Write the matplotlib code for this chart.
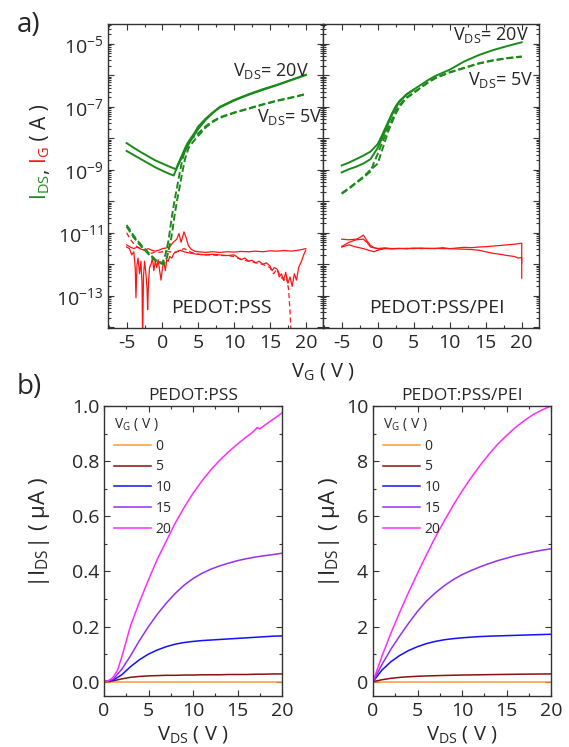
import matplotlib
matplotlib.use('Agg')
import matplotlib.pyplot as plt
import numpy as np
from matplotlib.ticker import LogLocator, FuncFormatter, MultipleLocator, NullFormatter, FormatStrFormatter

plt.rcParams['font.family'] = ['Open Sans', 'DejaVu Sans']
plt.rcParams['mathtext.default'] = 'regular'
plt.rcParams['axes.unicode_minus'] = False

TXT = '#262626'
GREEN = '#1a8a1a'
RED = '#ff1414'

# ---------------- (a) transfer curves, log10(I / A) ----------------
# PEDOT:PSS, VDS = 20 V (solid, two sweeps)
vg_pss_20a = [-5, -4, -3, -2, -1, 0, 1, 1.88, 2.3, 2.7, 3.04, 3.5, 4.0, 4.44, 5, 6, 7, 8, 10, 12, 14, 16, 18, 20]
lg_pss_20a = [-8.15, -8.3, -8.44, -8.57, -8.7, -8.8, -8.9, -8.98, -8.75, -8.55, -8.37, -8.15, -7.98, -7.84,
              -7.62, -7.38, -7.18, -7.0, -6.78, -6.6, -6.44, -6.3, -6.14, -5.98]
vg_pss_20b = [-5, -4, -3, -2, -1, 0, 1, 1.56, 2.0, 2.5, 3.0, 3.5, 4, 5, 6, 7, 8, 10, 12, 14, 16, 18, 20]
lg_pss_20b = [-8.40, -8.53, -8.66, -8.79, -8.92, -9.03, -9.13, -9.18, -8.95, -8.7, -8.47, -8.25, -8.05,
              -7.7, -7.42, -7.2, -7.02, -6.8, -6.62, -6.46, -6.31, -6.15, -5.99]
# PEDOT:PSS, VDS = 5 V (dashed, two sweeps)
vg_pss_5a = [-5, -4, -3, -2, -1, -0.5, 0, 0.4, 0.8, 1.0, 1.3, 1.7, 2.0, 2.4, 2.8, 3.3, 4, 5, 6, 7, 8, 10,
             12, 14, 16, 18, 20]
lg_pss_5a = [-10.75, -11.1, -11.38, -11.62, -11.85, -11.92, -11.95, -11.7, -11.3, -11.0, -10.5, -9.95, -9.6,
             -9.1, -8.65, -8.26, -8.02, -7.84, -7.62, -7.46, -7.33, -7.18, -7.05, -6.92, -6.8, -6.7, -6.59]
vg_pss_5b = [-5, -4, -3, -2, -1, -0.5, 0.2, 0.6, 1.1, 1.35, 1.65, 2.05, 2.35, 2.75, 3.15, 3.65, 4.3, 5, 6,
             7, 8, 10, 12, 14, 16, 18, 20]
lg_pss_5b = [-10.8, -11.15, -11.42, -11.66, -11.88, -11.95, -12.0, -11.8, -11.3, -11.0, -10.5, -9.95, -9.6,
             -9.1, -8.65, -8.3, -8.1, -7.92, -7.66, -7.48, -7.35, -7.19, -7.06, -6.93, -6.81, -6.71, -6.6]
# PEDOT:PSS gate currents
vg_pss_ga = [-5, -4.5, -4, -3.5, -3, -2.5, -2, -1.5, -1, -0.5, 0, 0.5, 1, 1.5, 2, 2.3, 2.6, 3.0, 3.3, 3.6,
             4, 4.5, 5, 6, 7, 8, 9, 10, 11, 12, 13, 14, 15, 16, 17, 18, 19, 20]
lg_pss_ga = [-11.38, -11.45, -11.5, -11.45, -11.52, -11.55, -11.5, -11.55, -11.58, -11.55, -11.5, -11.48,
             -11.45, -11.3, -11.2, -11.02, -11.3, -10.97, -11.15, -11.4, -11.52, -11.58, -11.6, -11.62, -11.6,
             -11.62, -11.6, -11.61, -11.59, -11.6, -11.58, -11.6, -11.57, -11.58, -11.56, -11.58, -11.55, -11.5]
vg_pss_gb = [-5, -4.6, -4.3, -4.0, -3.8, -3.7, -3.55, -3.4, -3.2, -3.0, -2.85, -2.77, -2.65, -2.5, -2.3,
             -2.15, -2.07, -1.95, -1.8, -1.6, -1.4, -1.2, -1.0, -0.8, -0.6, -0.4, -0.2, 0, 0.2, 0.4, 0.6,
             0.8, 1.0, 1.3, 1.6, 2.0, 2.5, 3, 4, 5, 6, 7, 8, 9, 10, 10.5, 11, 11.5, 12, 12.5, 13, 13.5, 14,
             14.5, 15, 15.3, 15.6, 16, 16.3, 16.6, 16.9, 17.2, 17.5, 17.8, 18.1, 18.4, 18.7, 19, 19.4,
             19.7, 20]
lg_pss_gb = [-11.45, -11.5, -11.7, -11.6, -12.1, -13.06, -12.0, -11.8, -12.3, -11.9, -12.6, -14.5, -12.4,
             -11.9, -12.3, -12.8, -13.44, -12.6, -12.1, -12.0, -11.8, -12.2, -11.9, -12.1, -11.85, -12.2,
             -12.5, -12.1, -11.9, -12.2, -11.85, -11.9, -11.75, -11.8, -11.65, -11.6, -11.55, -11.6, -11.65,
             -11.68, -11.7, -11.68, -11.7, -11.72, -11.7, -11.78, -11.85, -11.8, -11.9, -11.87, -11.95,
             -11.9, -12.0, -11.95, -12.05, -12.2, -12.1, -12.15, -12.4, -12.3, -12.5, -12.25, -12.6, -12.4,
             -12.7, -12.3, -12.5, -12.1, -11.9, -11.7, -11.55]
vg_pss_gc = [-5, -4.5, -4, -3.5, -3, -2.5, -2, -1.5, -1, -0.5, 0, 0.5, 1, 1.5, 2, 2.5, 3, 3.5, 4, 5, 6, 7,
             8, 9, 10, 11, 12, 13, 14, 15, 15.5, 16, 16.5, 17, 17.3, 17.6, 17.8, 18]
lg_pss_gc = [-11.0, -11.2, -11.35, -11.45, -11.5, -11.55, -11.6, -11.65, -11.6, -11.62, -11.6, -11.58,
             -11.6, -11.62, -11.6, -11.55, -11.5, -11.55, -11.62, -11.68, -11.7, -11.7, -11.72, -11.72,
             -11.75, -11.85, -11.9, -11.95, -12.0, -12.1, -12.3, -12.15, -12.4, -12.5, -12.4, -12.8,
             -13.5, -14.5]

# PEDOT:PSS/PEI, VDS = 20 V (solid)
vg_pei_20a = [-5, -4, -3, -2, -1, 0, 0.5, 1, 1.5, 2, 2.5, 3, 4, 5, 6, 7, 8, 10, 12, 14, 16, 18, 20]
lg_pei_20a = [-8.86, -8.77, -8.66, -8.55, -8.42, -8.18, -7.95, -7.7, -7.45, -7.2, -6.98, -6.82, -6.6,
              -6.45, -6.3, -6.15, -6.02, -5.82, -5.56, -5.36, -5.2, -5.07, -4.95]
vg_pei_20b = [-5, -4, -3, -2, -1, 0, 0.5, 1, 1.5, 2, 3, 4, 5]
lg_pei_20b = [-9.08, -8.98, -8.9, -8.8, -8.66, -8.3, -8.05, -7.78, -7.5, -7.24, -6.84, -6.61, -6.46]
# PEDOT:PSS/PEI, VDS = 5 V (dashed)
vg_pei_5a = [-5, -4, -3, -2, -1, -0.45, 0, 0.5, 1.24, 2, 2.5, 3, 4, 5, 6, 7, 8, 10, 12, 14, 16, 18, 20]
lg_pei_5a = [-9.76, -9.6, -9.42, -9.25, -9.05, -8.73, -8.5, -8.2, -7.78, -7.4, -7.15, -6.95, -6.7, -6.55,
             -6.38, -6.22, -6.08, -5.9, -5.76, -5.62, -5.52, -5.45, -5.4]
vg_pei_5b = [-5, -4, -3, -2, -1, 0, 0.5, 1.0, 1.5, 2, 2.5, 3, 4, 5, 6, 7, 8, 10, 12, 14, 16, 18, 20]
lg_pei_5b = [-9.74, -9.58, -9.4, -9.22, -9.0, -8.8, -8.45, -8.1, -7.75, -7.48, -7.22, -7.0, -6.72, -6.56,
             -6.39, -6.23, -6.09, -5.91, -5.77, -5.63, -5.53, -5.46, -5.41]
# PEDOT:PSS/PEI gate currents
vg_pei_ga = [-5, -4, -3, -2.5, -2, -1.5, -1, -0.5, 0, 1, 2, 3, 4, 5, 6, 7, 8, 9, 10, 11, 12, 13, 14, 15,
             16, 17, 18, 19, 19.9, 20, 20]
lg_pei_ga = [-11.2, -11.22, -11.2, -11.15, -11.07, -11.25, -11.4, -11.47, -11.5, -11.48, -11.5, -11.49,
             -11.51, -11.48, -11.5, -11.49, -11.5, -11.47, -11.5, -11.48, -11.46, -11.47, -11.45, -11.44,
             -11.42, -11.4, -11.38, -11.36, -11.33, -11.33, -11.96]
vg_pei_gb = [-5, -4, -3, -2, -1.5, -1, 0, 1, 2, 3, 4, 5, 6, 7, 8, 9, 10, 11, 12, 13, 14, 15, 16, 17, 18,
             19, 19.5, 20, 20]
lg_pei_gb = [-11.43, -11.3, -11.22, -11.2, -11.3, -11.45, -11.5, -11.49, -11.51, -11.5, -11.49, -11.5,
             -11.48, -11.5, -11.49, -11.5, -11.5, -11.51, -11.52, -11.53, -11.55, -11.6, -11.65, -11.68,
             -11.72, -11.75, -11.8, -11.78, -12.44]
vg_pei_gc = [-5, -4, -3, -2, -1, -0.5, 0, 1, 2]
lg_pei_gc = [-11.45, -11.38, -11.45, -11.5, -11.57, -11.6, -11.55, -11.5, -11.5]

# ---------------- (b) output curves, |IDS| in uA ----------------
vds = [0, 1, 2, 3, 4, 5, 6, 7, 8, 9, 10, 11, 12, 13, 14, 15, 16, 17, 18, 19, 20]
vg_levels = ['0', '5', '10', '15', '20']
pss_out = {
    '0': [0, 0, 0, 0, 0, 0, 0, 0, 0, 0, 0, 0, 0, 0, 0, 0, 0, 0, 0, 0, 0],
    '5': [0, 0.003, 0.01, 0.016, 0.019, 0.021, 0.022, 0.023, 0.023, 0.024, 0.024, 0.025, 0.025, 0.025,
          0.026, 0.026, 0.026, 0.027, 0.027, 0.028, 0.028],
    '10': [0, 0.005, 0.025, 0.055, 0.08, 0.1, 0.115, 0.127, 0.136, 0.142, 0.146, 0.149, 0.151, 0.153,
           0.155, 0.157, 0.159, 0.161, 0.163, 0.165, 0.166],
    '15': [0, 0.008, 0.045, 0.095, 0.15, 0.2, 0.245, 0.285, 0.32, 0.35, 0.374, 0.393, 0.408, 0.42, 0.43,
           0.439, 0.446, 0.452, 0.457, 0.461, 0.466],
}
vds_pss20 = [0, 0.5, 1, 1.5, 2, 3, 4, 5, 6, 7, 8, 9, 10, 11, 12, 13, 14, 15, 16, 16.6, 17, 17.2, 17.5, 18,
             19, 19.5, 20]
pss_out20 = [0, 0.003, 0.015, 0.04, 0.09, 0.205, 0.29, 0.37, 0.445, 0.51, 0.575, 0.632, 0.683, 0.728, 0.768,
             0.803, 0.834, 0.862, 0.888, 0.902, 0.914, 0.922, 0.917, 0.929, 0.952, 0.963, 0.975]
pei_out = {
    '0': [0, 0, 0, 0, 0, 0, 0, 0, 0, 0, 0, 0, 0, 0, 0, 0, 0, 0, 0, 0, 0],
    '5': [0, 0.07, 0.12, 0.155, 0.178, 0.195, 0.207, 0.217, 0.226, 0.233, 0.24, 0.245, 0.25, 0.255, 0.26,
          0.264, 0.268, 0.272, 0.275, 0.278, 0.28],
    '10': [0, 0.42, 0.72, 0.95, 1.13, 1.27, 1.38, 1.46, 1.52, 1.56, 1.59, 1.615, 1.635, 1.65, 1.66, 1.67,
           1.68, 1.69, 1.7, 1.71, 1.72],
    '15': [0, 0.62, 1.17, 1.66, 2.12, 2.55, 2.92, 3.22, 3.48, 3.7, 3.88, 4.03, 4.16, 4.28, 4.39, 4.48, 4.57,
           4.64, 4.71, 4.77, 4.82],
    '20': [0, 0.92, 1.75, 2.52, 3.24, 3.93, 4.6, 5.24, 5.83, 6.39, 6.91, 7.39, 7.83, 8.24, 8.61, 8.93, 9.22,
           9.47, 9.69, 9.86, 10.0],
}
out_colors = {'0': '#ff9933', '5': '#8b1010', '10': '#1010ff', '15': '#9430f0', '20': '#ff2cff'}

W, H = 569, 747
fig = plt.figure(figsize=(W / 100, H / 100), dpi=100)


def rect(x0, y0, x1, y1):
    return [x0 / W, 1 - y1 / H, (x1 - x0) / W, (y1 - y0) / H]


def style(ax):
    for s in ax.spines.values():
        s.set_linewidth(1.0)
        s.set_color('#333333')
    ax.tick_params(which='both', direction='in', top=True, right=True, colors='#333333',
                   labelcolor=TXT, labelsize=14, width=0.8)
    ax.tick_params(which='major', length=4.5)
    ax.tick_params(which='minor', length=2.5)


axL = fig.add_axes(rect(108, 24, 323, 328))
axR = fig.add_axes(rect(323, 24, 539, 328))


def odd_fmt(v, p):
    e = int(round(np.log10(v)))
    return r'$10^{%d}$' % e if e % 2 != 0 else ''


for ax in (axL, axR):
    style(ax)
    ax.set_yscale('log')
    ax.set_ylim(10 ** -14.02, 10 ** -4.37)
    ax.set_xlim(-7.6, 22.4)
    ax.xaxis.set_major_locator(MultipleLocator(5))
    ax.xaxis.set_minor_locator(MultipleLocator(2.5))
    ax.yaxis.set_major_locator(LogLocator(base=10, numticks=30))
    ax.yaxis.set_minor_locator(LogLocator(base=10, subs=np.arange(2, 10), numticks=30))
    ax.yaxis.set_minor_formatter(NullFormatter())
    ax.tick_params(axis='x', pad=4)
axL.yaxis.set_major_formatter(FuncFormatter(odd_fmt))
axR.yaxis.set_major_formatter(NullFormatter())


def P(a):
    return 10.0 ** np.asarray(a)


gdash = (0, (3.5, 1.6))
rdash = (0, (4, 2.5))
# left panel
axL.plot(vg_pss_ga, P(lg_pss_ga), color=RED, lw=0.9)
axL.plot(vg_pss_gb, P(lg_pss_gb), color=RED, lw=0.9)
axL.plot(vg_pss_gc, P(lg_pss_gc), color=RED, lw=0.9, ls=rdash)
axL.plot(vg_pss_20a, P(lg_pss_20a), color=GREEN, lw=1.4)
axL.plot(vg_pss_20b, P(lg_pss_20b), color=GREEN, lw=1.4)
axL.plot(vg_pss_5a, P(lg_pss_5a), color=GREEN, lw=1.4, ls=gdash)
axL.plot(vg_pss_5b, P(lg_pss_5b), color=GREEN, lw=1.4, ls=gdash)
# right panel
axR.plot(vg_pei_ga, P(lg_pei_ga), color=RED, lw=0.9)
axR.plot(vg_pei_gb, P(lg_pei_gb), color=RED, lw=0.9)
axR.plot(vg_pei_gc, P(lg_pei_gc), color=RED, lw=0.9)
axR.plot(vg_pei_20a, P(lg_pei_20a), color=GREEN, lw=1.4)
axR.plot(vg_pei_20b, P(lg_pei_20b), color=GREEN, lw=1.4)
axR.plot(vg_pei_5a, P(lg_pei_5a), color=GREEN, lw=1.4, ls=gdash)
axR.plot(vg_pei_5b, P(lg_pei_5b), color=GREEN, lw=1.4, ls=gdash)

vds_lbl20 = r'V$_{DS}$= 20V'
vds_lbl5 = r'V$_{DS}$= 5V'
axL.text(0.581, 0.829, vds_lbl20, transform=axL.transAxes, fontsize=13, color=TXT, va='baseline')
axL.text(0.693, 0.678, vds_lbl5, transform=axL.transAxes, fontsize=13, color=TXT, va='baseline')
axR.text(0.602, 0.947, vds_lbl20, transform=axR.transAxes, fontsize=13, color=TXT, va='baseline')
axR.text(0.671, 0.800, vds_lbl5, transform=axR.transAxes, fontsize=13, color=TXT, va='baseline')
axL.text(0.526, 0.049, 'PEDOT:PSS', transform=axL.transAxes, fontsize=14, color=TXT, ha='center', va='baseline')
axR.text(0.528, 0.049, 'PEDOT:PSS/PEI', transform=axR.transAxes, fontsize=14, color=TXT, ha='center', va='baseline')

fig.text(323 / W, 1 - 376 / H, r'V$_G$ ( V )', fontsize=14.5, color=TXT, ha='center', va='baseline')
fig.text(17 / W, 1 - 25 / H, 'a)', fontsize=20, color=TXT, ha='left', va='center')
fig.text(17 / W, 1 - 387 / H, 'b)', fontsize=20, color=TXT, ha='left', va='center')

# ---------------- (b) ----------------
axBL = fig.add_axes(rect(104, 406, 282, 696))
axBR = fig.add_axes(rect(373, 406, 551, 696))
for ax in (axBL, axBR):
    style(ax)
    ax.set_xlim(0, 20)
    ax.xaxis.set_major_locator(MultipleLocator(5))
    ax.xaxis.set_minor_locator(MultipleLocator(2.5))
    ax.tick_params(axis='x', pad=4)
axBL.set_ylim(-0.052, 1.0)
axBL.yaxis.set_major_locator(MultipleLocator(0.2))
axBL.yaxis.set_minor_locator(MultipleLocator(0.1))
axBL.yaxis.set_major_formatter(FormatStrFormatter('%.1f'))
axBR.set_ylim(-0.52, 10)
axBR.yaxis.set_major_locator(MultipleLocator(2))
axBR.yaxis.set_minor_locator(MultipleLocator(1))
axBR.yaxis.set_major_formatter(FormatStrFormatter('%d'))

for lv in vg_levels:
    if lv == '20':
        axBL.plot(vds_pss20, pss_out20, color=out_colors[lv], lw=1.1, label=lv)
    else:
        axBL.plot(vds, pss_out[lv], color=out_colors[lv], lw=1.1, label=lv)
    axBR.plot(vds, pei_out[lv], color=out_colors[lv], lw=1.1, label=lv)

for ax, title in ((axBL, 'PEDOT:PSS'), (axBR, 'PEDOT:PSS/PEI')):
    ax.text(0.5, 1 + 6 / 290, title, transform=ax.transAxes, fontsize=12.5, color=TXT,
            ha='center', va='baseline')
    leg = ax.legend(loc='upper left', bbox_to_anchor=(0.0, 1.0), frameon=False, fontsize=10,
                    title=r'V$_G$ ( V )', title_fontsize=10, handlelength=2.7, handletextpad=0.3,
                    labelspacing=0.42, alignment='left', borderaxespad=0.3, labelcolor=TXT)
    leg.get_title().set_color(TXT)
    ax.set_xlabel(r'V$_{DS}$ ( V )', fontsize=14.5, color=TXT, labelpad=3)

fig.text(40 / W, 1 - 533 / H, r'|I$_{DS}$| ( μA )', fontsize=16, color=TXT, rotation=90, ha='center', va='center')
fig.text(329 / W, 1 - 533 / H, r'|I$_{DS}$| ( μA )', fontsize=16, color=TXT, rotation=90, ha='center', va='center')

# multi-coloured y label of panel (a)
fig.canvas.draw()
rend = fig.canvas.get_renderer()
pieces = [(r'I$_{DS}$', GREEN), (',', TXT), (r' I$_{G}$', RED), (' ( A )', TXT)]
ypos = 1 - 200 / H
for s, c in pieces:
    t = fig.text(46 / W, ypos, s, color=c, rotation=90, rotation_mode='anchor', ha='left',
                 va='baseline', fontsize=15)
    bb = t.get_window_extent(renderer=rend)
    ypos += bb.height / fig.bbox.height

fig.savefig('out.png', dpi=100)
